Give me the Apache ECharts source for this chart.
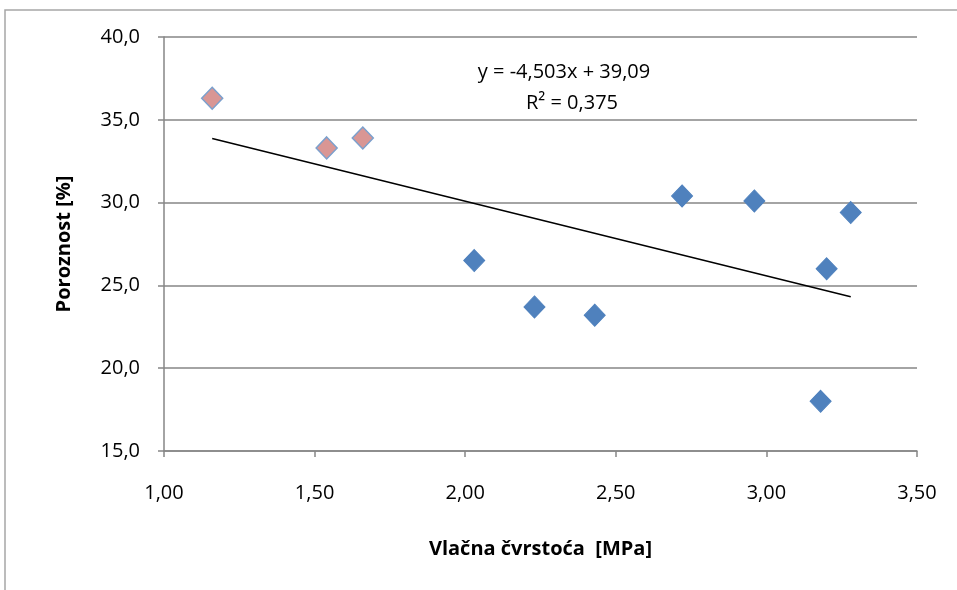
<!DOCTYPE html>
<html><head><meta charset="utf-8">
<script src="https://cdn.jsdelivr.net/npm/echarts@6/dist/echarts.min.js"></script>
<style>html,body{margin:0;padding:0;background:#fff}#c{width:957px;height:590px}</style>
</head><body><div id="c"></div>
<script>
const pinkX = [1.16, 1.54, 1.66];
const pinkY = [36.3, 33.3, 33.9];
const blueX = [2.03, 2.23, 2.43, 2.72, 2.96, 3.20, 3.18, 3.28];
const blueY = [26.5, 23.7, 23.2, 30.4, 30.1, 26.0, 18.0, 29.4];
const trendSlope = -4.503;
const trendIntercept = 39.09;
const trendRange = [1.16, 3.28];
const eqText = ['y = -4,503x + 39,09', 'R² = 0,375'];
const xTitle = 'Vlačna čvrstoća  [MPa]';
const yTitle = 'Poroznost [%]';

const font = 'Open Sans';
const chart = echarts.init(document.getElementById('c'), null, {renderer:'canvas'});
chart.setOption({
  animation:false,
  backgroundColor:'#fff',
  grid:{left:164, top:37, width:753, height:414},
  xAxis:{type:'value', min:1, max:3.5, interval:0.5,
    name:xTitle, nameLocation:'middle', nameGap:88,
    nameTextStyle:{fontFamily:font, fontWeight:'bold', fontSize:20, color:'#000'},
    axisLine:{show:true, lineStyle:{color:'#868686', width:1.5}},
    axisTick:{show:true, inside:false, length:6, lineStyle:{color:'#868686', width:1.5}},
    splitLine:{show:false},
    axisLabel:{fontFamily:font, fontSize:20, color:'#000', margin:32, formatter:v=>v.toFixed(2).replace('.',',')}},
  yAxis:{type:'value', min:15, max:40, interval:5,
    name:yTitle, nameLocation:'middle', nameGap:90, nameRotate:90,
    nameTextStyle:{fontFamily:font, fontWeight:'bold', fontSize:20, color:'#000'},
    axisLine:{show:true, lineStyle:{color:'#868686', width:1.5}},
    axisTick:{show:true, inside:false, length:6, lineStyle:{color:'#868686', width:1.5}},
    splitLine:{show:true, lineStyle:{color:'#868686', width:1.5}},
    axisLabel:{fontFamily:font, fontSize:20, color:'#000', margin:24, formatter:v=>v.toFixed(1).replace('.',',')}},
  graphic:[
    {type:'polyline', shape:{points:[[5,590],[5,10],[957,10]]}, style:{stroke:'#a6a6a6', lineWidth:1.5, fill:null}, silent:true},
    {type:'text', style:{text:eqText[0], x:564, y:72, textAlign:'center', textVerticalAlign:'middle', fontFamily:font, fontSize:20, fill:'#000'}},
    {type:'text', style:{text:eqText[1], x:572, y:103, textAlign:'center', textVerticalAlign:'middle', fontFamily:font, fontSize:20, fill:'#000'}}
  ],
  series:[
    {type:'line', data:trendRange.map(x=>[x, trendSlope*x+trendIntercept]), symbol:'none',
     lineStyle:{color:'#000', width:1.5}, z:1},
    {type:'scatter', data:pinkX.map((x,i)=>[x,pinkY[i]]), symbol:'diamond', symbolSize:[21,22],
     itemStyle:{color:'#D99694', borderColor:'#7BA0CD', borderWidth:1.5, opacity:1}, z:3},
    {type:'scatter', data:blueX.map((x,i)=>[x,blueY[i]]), symbol:'diamond', symbolSize:[21,22],
     itemStyle:{color:'#4F81BD', borderColor:'#4F81BD', borderWidth:1, opacity:1}, z:3}
  ]
});
</script></body></html>
